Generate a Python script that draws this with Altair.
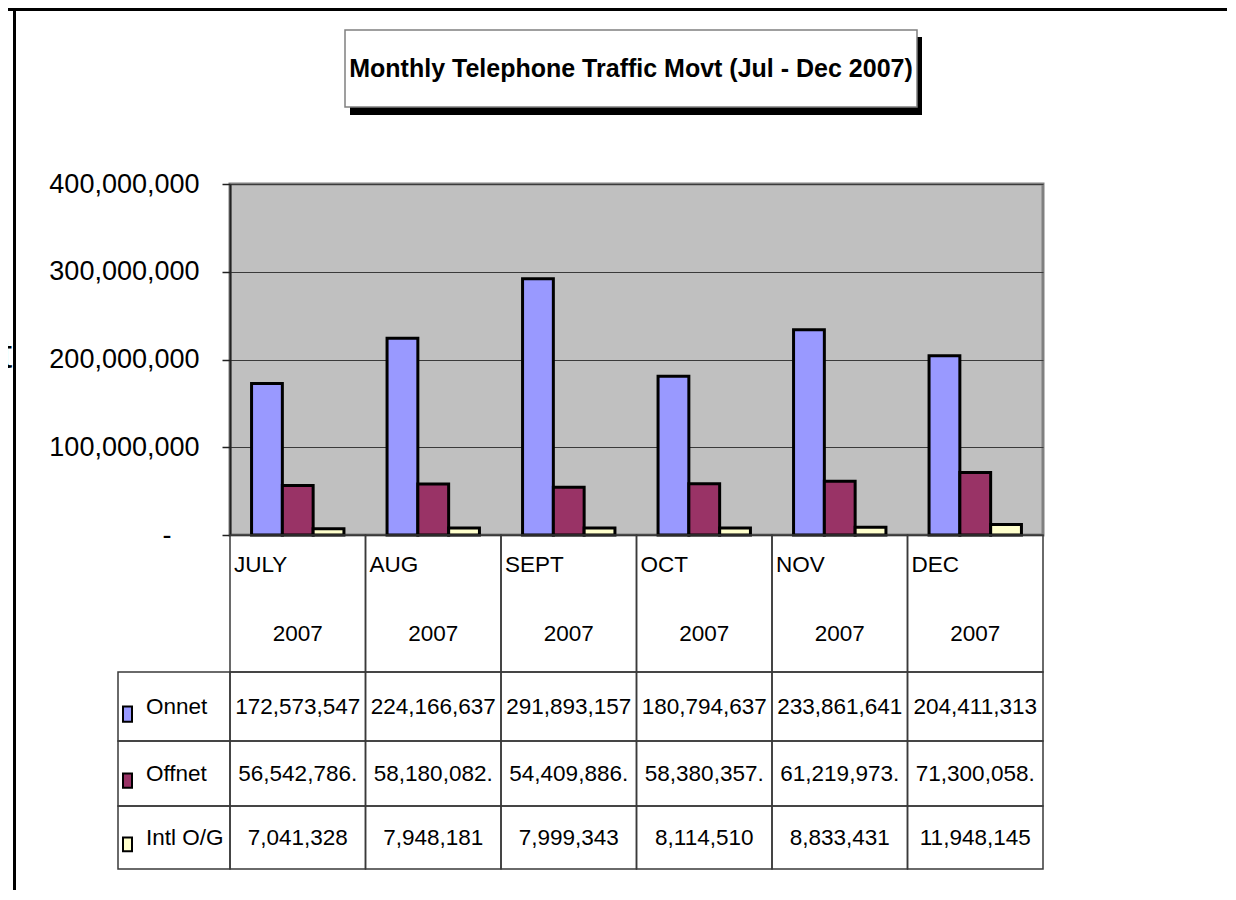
import altair as alt
import pandas as pd

# ---------------- data ----------------
months = ["JULY", "AUG", "SEPT", "OCT", "NOV", "DEC"]
years = ["2007", "2007", "2007", "2007", "2007", "2007"]
series = ["Onnet", "Offnet", "Intl O/G"]
onnet = [172573547, 224166637, 291893157, 180794637, 233861641, 204411313]
offnet = [56542786, 58180082, 54409886, 58380357, 61219973, 71300058]
intl = [7041328, 7948181, 7999343, 8114510, 8833431, 11948145]
colors = ["#9999FF", "#993366", "#FFFFCC"]
y_ticks = [0, 100000000, 200000000, 300000000, 400000000]
title_text = "Monthly Telephone Traffic Movt (Jul - Dec 2007)"

FONT = "Liberation Sans, Arial, sans-serif"
W, H = 813, 351
PAD_R = 184

values = {"Onnet": onnet, "Offnet": offnet, "Intl O/G": intl}
bar_rows = []
for s in series:
    for m, v in zip(months, values[s]):
        bar_rows.append({"month": m, "series": s, "value": v})
bar_df = pd.DataFrame(bar_rows)

# table rows in "row units": header 0-2, Onnet 2-3, Offnet 3-4, Intl 4-5
row_top = {"Onnet": 2, "Offnet": 3, "Intl O/G": 4}
cell_rows = []
for m in months:
    cell_rows.append({"month": m, "r0": 0, "r1": 2})
    for s in series:
        cell_rows.append({"month": m, "r0": row_top[s], "r1": row_top[s] + 1})
cell_df = pd.DataFrame(cell_rows)
legcell_df = pd.DataFrame([{"r0": row_top[s], "r1": row_top[s] + 1, "series": s} for s in series])

head_df = pd.DataFrame({"month": months, "year": years})

val_rows = []
for s in series:
    for m, v in zip(months, values[s]):
        lab = f"{v:,}." if s == "Offnet" else f"{v:,}"
        val_rows.append({"month": m, "series": s, "label": lab, "rc": row_top[s] + 0.5})
val_df = pd.DataFrame(val_rows)

leg_df = pd.DataFrame([{"series": s, "rc": row_top[s] + 0.5,
                        "s0": row_top[s] + 0.5, "s1": row_top[s] + 0.72} for s in series])

one = pd.DataFrame({"a": [0]})

# ---------------- scales ----------------
x_scale = alt.Scale(domain=months, paddingInner=0, paddingOuter=0)
t_scale = alt.Scale(domain=[0, 2, 3, 4, 5], range=[351, 488, 557, 622, 685], nice=False, zero=False)
c_scale = alt.Scale(domain=series, range=colors)

x_enc = alt.X("month:N", sort=months, scale=x_scale,
              axis=alt.Axis(labels=False, ticks=False, grid=False, title=None,
                            domainColor="#111111", domainWidth=2))

bars = alt.Chart(bar_df).mark_bar(stroke="black", strokeWidth=3).encode(
    x=x_enc,
    xOffset=alt.XOffset("series:N", sort=series,
                        scale=alt.Scale(domain=series, paddingInner=0, paddingOuter=0.7)),
    y=alt.Y("value:Q", scale=alt.Scale(domain=[0, 400000000], nice=False),
            axis=alt.Axis(values=y_ticks, title=None, grid=True, gridColor="#3a3a3a", gridWidth=1,
                          tickSize=8, tickColor="#222222", tickWidth=1.5,
                          domainColor="#222222", domainWidth=2,
                          labelFont=FONT, labelFontSize=27, labelColor="black",
                          labelPadding={"condition": {"test": "datum.value == 0", "value": 51}, "value": 23},
                          labelLimit=0,
                          labelExpr="datum.value == 0 ? '-' : format(datum.value, ',')")),
    color=alt.Color("series:N", scale=c_scale, legend=None),
)

cells = alt.Chart(cell_df).mark_rect(fill=None, stroke="#3a3a3a", strokeWidth=1.5).encode(
    x=x_enc,
    y=alt.Y("r0:Q", scale=t_scale, axis=None),
    y2="r1:Q",
)

legcells = alt.Chart(legcell_df).mark_rect(fill=None, stroke="#3a3a3a", strokeWidth=1.5).encode(
    x=alt.value(-112), x2=alt.value(0),
    y=alt.Y("r0:Q", scale=t_scale, axis=None),
    y2="r1:Q",
)

tfont = dict(font=FONT, fontSize=22.5, color="black", baseline="middle")

month_txt = alt.Chart(head_df).transform_calculate(rc="0.44").mark_text(align="left", dx=4, **tfont).encode(
    x=alt.X("month:N", sort=months, scale=x_scale, bandPosition=0, axis=None),
    y=alt.Y("rc:Q", scale=t_scale, axis=None),
    text="month:N",
)
year_txt = alt.Chart(head_df).transform_calculate(rc="1.44").mark_text(align="center", **tfont).encode(
    x=x_enc,
    y=alt.Y("rc:Q", scale=t_scale, axis=None),
    text="year:N",
)
val_txt = alt.Chart(val_df).mark_text(align="center", **tfont).encode(
    x=x_enc,
    y=alt.Y("rc:Q", scale=t_scale, axis=None),
    text="label:N",
)
leg_txt = alt.Chart(leg_df).mark_text(align="left", **tfont).encode(
    x=alt.value(-84),
    y=alt.Y("rc:Q", scale=t_scale, axis=None),
    text="series:N",
)
leg_sq = alt.Chart(leg_df).mark_rect(stroke="black", strokeWidth=2).encode(
    x=alt.value(-107), x2=alt.value(-98),
    y=alt.Y("s0:Q", scale=t_scale, axis=None),
    y2="s1:Q",
    color=alt.Color("series:N", scale=c_scale, legend=None),
)

# ---------------- decorations ----------------
frame_top = alt.Chart(one).mark_rule(color="black", strokeWidth=3).encode(
    x=alt.value(-222), x2=alt.value(W + PAD_R), y=alt.value(-174.5))
frame_left = alt.Chart(one).mark_rule(color="black", strokeWidth=3).encode(
    x=alt.value(-215.5), y=alt.value(-176), y2=alt.value(H + 355))
stub_t = alt.Chart(one).mark_text(text="t", align="right", baseline="middle",
                                  font=FONT, fontSize=40, color="black").encode(
    x=alt.value(-218), y=alt.value(172))
shadow = alt.Chart(one).mark_rect(color="black").encode(
    x=alt.value(120), x2=alt.value(692), y=alt.value(-147), y2=alt.value(-69))
tbox = alt.Chart(one).mark_rect(fill="white", stroke="#808080", strokeWidth=1.5).encode(
    x=alt.value(115), x2=alt.value(687), y=alt.value(-154), y2=alt.value(-77))
ttext = alt.Chart(one).mark_text(text=title_text, align="center", baseline="middle",
                                 font=FONT, fontSize=25, fontWeight="bold", color="black").encode(
    x=alt.value(401), y=alt.value(-115))

chart = alt.layer(
    bars, cells, legcells, month_txt, year_txt, val_txt, leg_txt, leg_sq,
    frame_top, frame_left, stub_t, shadow, tbox, ttext,
).resolve_scale(y="independent").properties(
    width=W, height=H,
    autosize=alt.AutoSizeParams(type="none"),
    padding={"left": 222, "top": 176, "right": PAD_R, "bottom": 355},
    background="white",
).configure_view(fill="#C0C0C0", stroke="#808080", strokeWidth=3)

chart.save("out.html", embed_options={"renderer": "svg", "actions": False})
